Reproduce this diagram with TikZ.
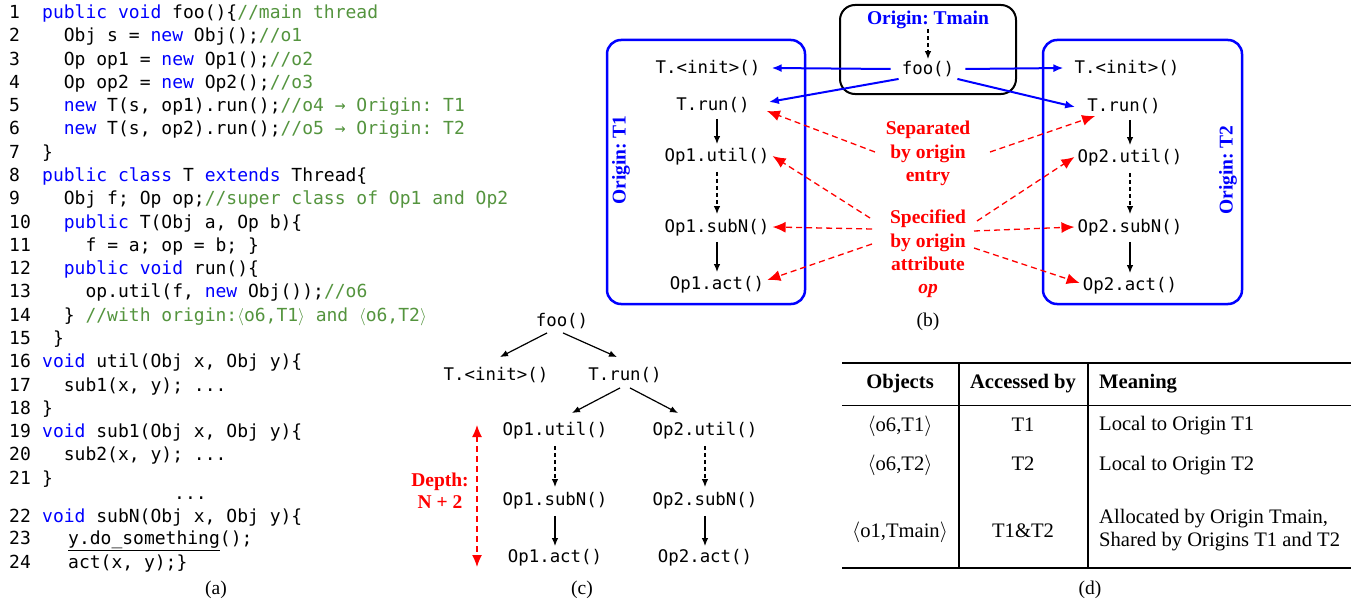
\documentclass[tikz,border=0pt]{standalone}
\usepackage{fontspec}
\setmainfont{Liberation Serif}
\newfontfamily\cmono{DejaVu Sans Mono}
\usetikzlibrary{arrows.meta}
\definecolor{kwblue}{RGB}{0,0,255}
\definecolor{cmgreen}{RGB}{84,148,62}
\definecolor{rd}{RGB}{255,0,0}
\newcommand\kwc[1]{\textcolor{kwblue}{#1}}
\newcommand\cmc[1]{\textcolor{cmgreen}{#1}}
\frenchspacing
\begin{document}
\begin{tikzpicture}[x=1pt,y=-1pt,
  code/.style={anchor=base west,inner sep=0pt,font=\cmono\fontsize{18}{22}\selectfont},
  fn/.style={inner sep=3pt,text height=12.5pt,text depth=1pt,font=\cmono\fontsize{17.4}{20}\selectfont},
  capt/.style={inner sep=0pt,font=\fontsize{19.5}{23}\selectfont},
  tab/.style={inner sep=0pt,anchor=base,font=\fontsize{20.6}{23}\selectfont},
  tabh/.style={tab,font=\bfseries\fontsize{20.6}{23}\selectfont},
  redt/.style={inner sep=0pt,align=center,text=rd,font=\bfseries\fontsize{19.5}{23.4}\selectfont},
  orig/.style={inner sep=0pt,text=kwblue,font=\bfseries\fontsize{19.5}{23}\selectfont},
  blk/.style={-{Latex[length=8pt,width=6.5pt]},line width=1.2pt},
  blkd/.style={blk,dash pattern=on 4pt off 3pt},
  blu/.style={-{Latex[length=10pt,width=8pt]},line width=2pt,draw=kwblue},
  redd/.style={-{Latex[length=13pt,width=11pt]},line width=1.3pt,draw=rd,dash pattern=on 6pt off 4pt},
  originbox/.style={draw=kwblue,line width=2.5pt,rounded corners=14pt}
]
\useasboundingbox (0,0) rectangle (1351,602);

% ---------------- (a) code ----------------
\foreach \n/\yy in {1/18.5,2/41.8,3/65.1,4/88.3,5/111.6,6/134.9,7/158.2,8/181.5,9/204.7,10/228.0,11/251.3,12/274.6,13/297.9,14/321.1,15/344.4,16/367.7,17/391.0,18/414.3,19/437.5,20/460.8,21/484.1,22/522.5,23/544.5,24/568}
  \node[code] (n\n) at (9,\yy) {\n};
\node[code] (c1) at (42,18.5) {\kwc{public void} foo()\{\cmc{//main thread}};
\node[code] (c2) at (63.7,41.8) {Obj s = \kwc{new} Obj();\cmc{//o1}};
\node[code] (c3) at (63.7,65.1) {Op op1 = \kwc{new} Op1();\cmc{//o2}};
\node[code] (c4) at (63.7,88.3) {Op op2 = \kwc{new} Op2();\cmc{//o3}};
\node[code] (c5) at (63.7,111.6) {\kwc{new} T(s, op1).run();\cmc{//o4 → Origin: T1}};
\node[code] (c6) at (63.7,134.9) {\kwc{new} T(s, op2).run();\cmc{//o5 → Origin: T2}};
\node[code] (c7) at (42,158.2) {\}};
\node[code] (c8) at (42,181.5) {\kwc{public class} T \kwc{extends} Thread\{};
\node[code] (c9) at (63.7,204.7) {Obj f; Op op;\cmc{//super class of Op1 and Op2}};
\node[code] (c10) at (63.7,228.0) {\kwc{public} T(Obj a, Op b)\{};
\node[code] (c11) at (85.4,251.3) {f = a; op = b; \}};
\node[code] (c12) at (63.7,274.6) {\kwc{public void} run()\{};
\node[code] (c13) at (85.4,297.9) {op.util(f, \kwc{new} Obj());\cmc{//o6}};
\node[code] (c14) at (63.7,321.1) {\} \cmc{//with origin:$\langle$o6,T1$\rangle$ and $\langle$o6,T2$\rangle$}};
\node[code] (c15) at (52.8,344.4) {\}};
\node[code] (c16) at (42,367.7) {\kwc{void} util(Obj x, Obj y)\{};
\node[code] (c17) at (63.7,391.0) {sub1(x, y); ...};
\node[code] (c18) at (42,414.3) {\}};
\node[code] (c19) at (42,437.5) {\kwc{void} sub1(Obj x, Obj y)\{};
\node[code] (c20) at (63.7,460.8) {sub2(x, y); ...};
\node[code] (c21) at (42,484.1) {\}};
\node[code] (cdots) at (174,499.5) {...};
\node[code] (c22) at (42,522.5) {\kwc{void} subN(Obj x, Obj y)\{};
\node[code] (c23) at (68,544.5) {\underline{y.do\_something}();};
\node[code] (c24) at (68,568) {act(x, y);\}};
\node[capt] (capa) at (216,590) {(a)};

% ---------------- (b) ----------------
\draw[originbox] (607,40) rectangle (805,304);
\draw[originbox] (1043,40) rectangle (1242,304);
\draw[line width=2pt,rounded corners=15pt] (840,5) rectangle (1016,94);
\node[orig] (tmainlbl) at (928,20) {Origin: Tmain};
\node[orig,rotate=90] (t1lbl) at (621,160) {Origin: T1};
\node[orig,rotate=90] (t2lbl) at (1228,170) {Origin: T2};

\node[fn] (bfoo) at (928,69) {foo()};
\node[fn] (t1init) at (708,68) {T.<init>()};
\node[fn] (t1run) at (713,105) {T.run()};
\node[fn] (op1util) at (717,156) {Op1.util()};
\node[fn] (op1subN) at (717,227) {Op1.subN()};
\node[fn] (op1act) at (717,284) {Op1.act()};
\node[fn] (t2init) at (1127,68) {T.<init>()};
\node[fn] (t2run) at (1124,106) {T.run()};
\node[fn] (op2util) at (1130,157) {Op2.util()};
\node[fn] (op2subN) at (1130,227) {Op2.subN()};
\node[fn] (op2act) at (1130,285) {Op2.act()};

\draw[blkd] (tmainlbl) -- (bfoo);
\draw[blk,shorten <=4pt,shorten >=2pt] (t1run.south -| op1util) -- (op1util.north);
\draw[blkd,shorten <=6pt,shorten >=3pt] (op1util.south) -- (op1subN.north);
\draw[blk,shorten <=5pt,shorten >=2pt] (op1subN.south) -- (op1act.north);
\draw[blk,shorten <=4pt,shorten >=2pt] (t2run.south -| op2util) -- (op2util.north);
\draw[blkd,shorten <=6pt,shorten >=3pt] (op2util.south) -- (op2subN.north);
\draw[blk,shorten <=5pt,shorten >=2pt] (op2subN.south) -- (op2act.north);

\draw[blu] ([xshift=-8pt]bfoo.west) -- ([xshift=8pt]t1init.east);
\draw[blu] ([xshift=8pt]bfoo.east) -- ([xshift=-8pt]t2init.west);
\draw[blu] (bfoo.south west) -- ([xshift=16pt,yshift=3pt]t1run.east);
\draw[blu] (bfoo.south east) -- ([xshift=-9pt,yshift=-1pt]t2run.west);

\node[redt] (sep) at (928,153.5) {Separated\\by origin\\entry};
\node[redt] (spec) at (928,254) {Specified\\by origin\\attribute\\\textit{op}};
\coordinate (sepL) at (875,152);
\coordinate (sepR) at (990,152);
\coordinate (specL1) at (870,218);
\coordinate (specL2) at (872,229);
\coordinate (specL3) at (872,244);
\coordinate (specR1) at (977,221);
\coordinate (specR2) at (974,231);
\coordinate (specR3) at (974,248);
\draw[redd] (sepL) -- ([xshift=14pt,yshift=-6pt]t1run.east);
\draw[redd] (sepR) -- ([xshift=11pt]t2run.south west);
\draw[redd] (specL1) -- (op1util.east);
\draw[redd] (specL2) -- (op1subN.east);
\draw[redd] (specL3) -- ([yshift=4pt]op1act.east);
\draw[redd] (specR1) -- (op2util.west);
\draw[redd] (specR2) -- (op2subN.west);
\draw[redd] (specR3) -- ([yshift=2pt]op2act.west);
\node[capt] (capb) at (928,322) {(b)};

% ---------------- (c) ----------------
\node[fn] (cfoo) at (562,321) {foo()};
\node[fn] (cinit) at (496,375) {T.<init>()};
\node[fn] (crun) at (625,375) {T.run()};
\node[fn] (c1util) at (555,430) {Op1.util()};
\node[fn] (c2util) at (705,430) {Op2.util()};
\node[fn] (c1subN) at (555,500) {Op1.subN()};
\node[fn] (c2subN) at (705,500) {Op2.subN()};
\node[fn] (c1act) at (555,557) {Op1.act()};
\node[fn] (c2act) at (705,557) {Op2.act()};
\draw[blk] ([xshift=-15pt,yshift=-2pt]cfoo.south) -- ([xshift=4pt,yshift=8pt]cinit.north);
\draw[blk] ([xshift=1pt,yshift=-2pt]cfoo.south) -- ([xshift=-8pt,yshift=8pt]crun.north);
\draw[blk] ([xshift=-5pt,yshift=-3pt]crun.south) -- ([xshift=17pt,yshift=7pt]c1util.north);
\draw[blk] ([xshift=5pt,yshift=-3pt]crun.south) -- ([xshift=-27pt,yshift=7pt]c2util.north);
\draw[blkd,shorten <=6pt,shorten >=3pt] (c1util.south) -- (c1subN.north);
\draw[blk,shorten <=6pt,shorten >=1pt] (c1subN.south) -- (c1act.north);
\draw[blkd,shorten <=6pt,shorten >=3pt] (c2util.south) -- (c2subN.north);
\draw[blk,shorten <=6pt,shorten >=1pt] (c2subN.south) -- (c2act.north);
\coordinate (dtop) at (477,425);
\coordinate (dbot) at (477,567);
\draw[{Latex[length=12pt,width=10pt]}-{Latex[length=12pt,width=10pt]},line width=1.3pt,draw=rd,dash pattern=on 6pt off 4pt] (dtop) -- (dbot);
\node[redt,font=\bfseries\fontsize{19.5}{22}\selectfont] (depth) at (440,491) {Depth:\\N + 2};
\node[capt] (capc) at (582,590) {(c)};

% ---------------- (d) table ----------------
\draw[line width=2pt] (842,363) -- (1351,363);
\draw[line width=1pt] (842,405) -- (1351,405);
\draw[line width=2pt] (842,568) -- (1351,568);
\draw[line width=1.5pt] (959,363) -- (959,568);
\draw[line width=1.5pt] (1088,363) -- (1088,568);
\node[tabh] (h1) at (900,388) {Objects};
\node[tabh] (h2) at (1023,388) {Accessed by};
\node[tabh,anchor=base west] (h3) at (1099,388) {Meaning};
\node[tab] (r1a) at (900,431.5) {$\langle$o6,T1$\rangle$};
\node[tab] (r1b) at (1023,431.5) {T1};
\node[tab,anchor=base west] (r1c) at (1099,430) {Local to Origin T1};
\node[tab] (r2a) at (900,470) {$\langle$o6,T2$\rangle$};
\node[tab] (r2b) at (1023,470) {T2};
\node[tab,anchor=base west] (r2c) at (1099,470) {Local to Origin T2};
\node[tab] (r3a) at (900,537) {$\langle$o1,Tmain$\rangle$};
\node[tab] (r3b) at (1023,537) {T1\&T2};
\node[tab,anchor=west,align=left] (r3c) at (1099,530) {Allocated by Origin Tmain,\\Shared by Origins T1 and T2};
\node[capt] (capd) at (1090,590) {(d)};
\end{tikzpicture}
\end{document}
